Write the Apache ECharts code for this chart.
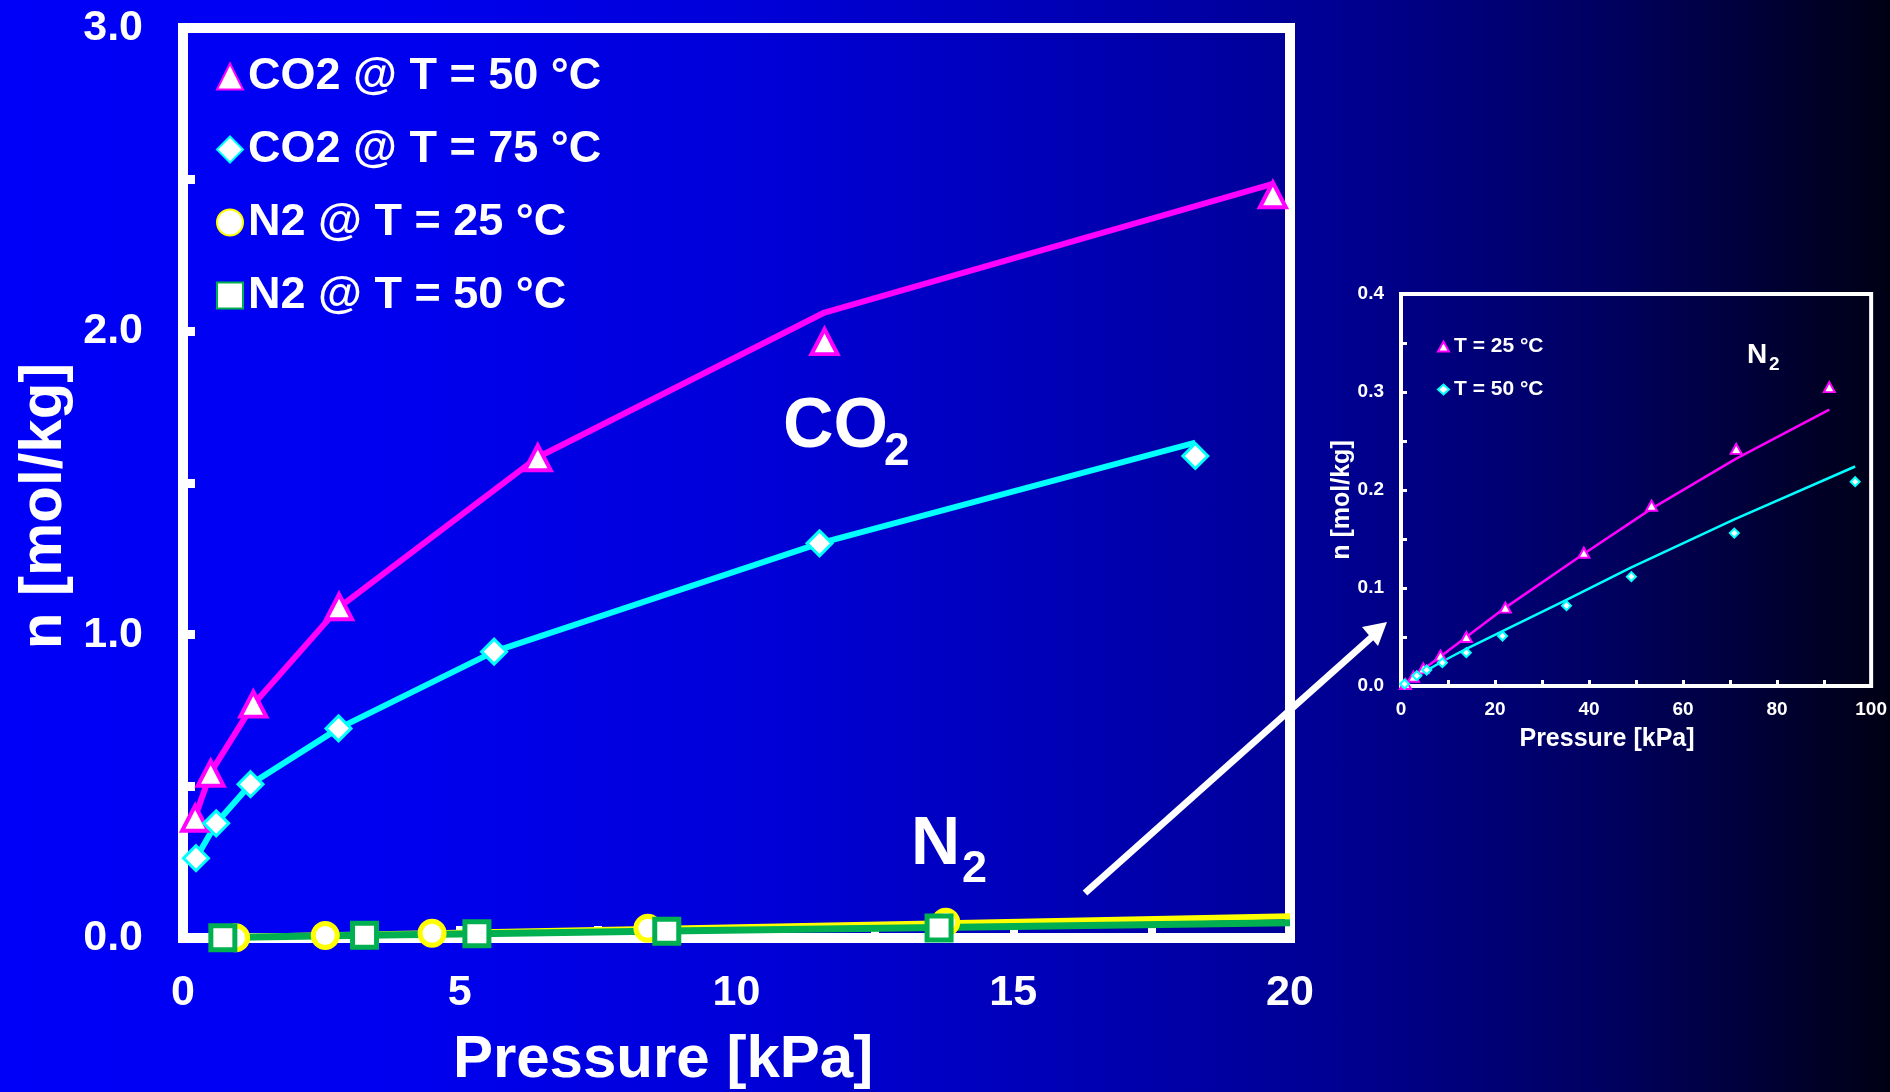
<!DOCTYPE html>
<html>
<head>
<meta charset="utf-8">
<script src="https://cdn.jsdelivr.net/npm/echarts@6/dist/echarts.min.js"></script>
<style>
html,body{margin:0;padding:0;width:1890px;height:1092px;overflow:hidden;}
#c{width:1890px;height:1092px;background:linear-gradient(to right,#0000F8 0%,#0000F0 20%,#0000D8 40%,#0000B8 55%,#000094 70%,#000060 85%,#000014 100%);}
</style>
</head>
<body>
<div id="c"></div>
<script>
// ---------- main chart data (Pressure [kPa], n [mol/kg]) ----------
const co2_50_P   = [0.22, 0.50, 1.27, 2.82, 6.41, 11.59, 19.69];
const co2_50_n   = [0.395, 0.543, 0.771, 1.092, 1.583, 1.966, 2.450];
const co2_50_fit = [0.400, 0.545, 0.770, 1.090, 1.585, 2.062, 2.486];

const co2_75_P   = [0.235, 0.60, 1.22, 2.81, 5.62, 11.50, 18.29];
const co2_75_n   = [0.263, 0.378, 0.507, 0.691, 0.944, 1.301, 1.589];
const co2_75_fit = [0.263, 0.378, 0.507, 0.691, 0.944, 1.301, 1.633];

const n2_25_P    = [0.95, 2.57, 4.50, 8.40, 13.78];
const n2_25_n    = [0.001, 0.008, 0.0155, 0.032, 0.052];
const n2_25_fitP = [0.95, 2.57, 4.50, 8.40, 13.78, 20.0];
const n2_25_fit  = [0.003, 0.009, 0.016, 0.030, 0.049, 0.0715];

const n2_50_P    = [0.72, 3.28, 5.31, 8.74, 13.66];
const n2_50_n    = [0.001, 0.009, 0.014, 0.022, 0.033];
const n2_50_fitP = [0.72, 3.28, 5.31, 8.74, 13.66, 20.0];
const n2_50_fit  = [0.002, 0.009, 0.014, 0.023, 0.035, 0.050];

// ---------- inset data (N2, 0-100 kPa) ----------
const in25_P   = [0.95, 2.65, 4.76, 8.4, 13.9, 22.2, 38.9, 53.3, 71.3, 91.1];
const in25_n   = [0.002, 0.0095, 0.018, 0.031, 0.050, 0.080, 0.136, 0.184, 0.242, 0.305];
const in25_fit = [0.003, 0.009, 0.017, 0.030, 0.050, 0.080, 0.135, 0.181, 0.232, 0.282];

const in50_P   = [0.76, 3.37, 5.47, 8.8, 13.9, 21.6, 35.2, 49.0, 70.9, 96.6];
const in50_n   = [0.002, 0.0105, 0.0163, 0.0238, 0.034, 0.051, 0.082, 0.1116, 0.156, 0.2085];
const in50_fit = [0.0025, 0.010, 0.016, 0.025, 0.038, 0.056, 0.088, 0.121, 0.170, 0.224];

// ---------- labels ----------
const mainNames  = ['CO2 @ T = 50 °C', 'CO2 @ T = 75 °C', 'N2 @ T = 25 °C', 'N2 @ T = 50 °C'];
const insetNames = ['T = 25 °C', 'T = 50 °C'];
const xTitle = 'Pressure [kPa]';
const yTitle = 'n [mol/kg]';

const FF = "'Liberation Sans', Arial, sans-serif";
const MAG = '#FF00FF', CYA = '#00FFFF', YEL = '#FFFF00', GRN = '#00B050';

const pairs = (xs, ys) => xs.map((x, i) => [x, ys[i]]);
const isMult = (v, step) => Math.abs(v / step - Math.round(v / step)) < 1e-6;

function axisX(grid, min, max, interval, labelStep, fs, margin, tl, tw) {
  return {
    type: 'value', gridIndex: grid, min, max, interval,
    axisLine: { show: false }, splitLine: { show: false },
    axisTick: { show: true, inside: true, length: tl, lineStyle: { color: '#fff', width: tw } },
    axisLabel: { color: '#fff', fontSize: fs, fontWeight: 'bold', fontFamily: FF, margin,
      formatter: v => isMult(v, labelStep) ? String(Math.round(v)) : '' }
  };
}
function axisY(grid, min, max, interval, labelStep, fs, margin, tl, tw) {
  return {
    type: 'value', gridIndex: grid, min, max, interval,
    axisLine: { show: false }, splitLine: { show: false },
    axisTick: { show: true, inside: true, length: tl, lineStyle: { color: '#fff', width: tw } },
    axisLabel: { color: '#fff', fontSize: fs, fontWeight: 'bold', fontFamily: FF, margin,
      formatter: v => isMult(v, labelStep) ? v.toFixed(1) : '' }
  };
}
function fitLine(name, xi, xs, ys, color, width) {
  return { name, type: 'line', xAxisIndex: xi, yAxisIndex: xi, data: pairs(xs, ys),
    symbol: 'none', silent: true, z: 2, lineStyle: { color, width }, itemStyle: { color } };
}
function pts(name, xi, xs, ys, symbol, size, color, bw, z) {
  return { name, type: 'scatter', xAxisIndex: xi, yAxisIndex: xi, data: pairs(xs, ys),
    symbol, symbolSize: size, z: z || 3,
    itemStyle: { color: '#fff', borderColor: color, borderWidth: bw, opacity: 1 } };
}
function txt(x, y, text, size, rot, align) {
  return { type: 'text', x, y, rotation: rot || 0, z: 10,
    style: { text, fill: '#fff', font: 'bold ' + size + 'px ' + FF,
      align: align || 'center', verticalAlign: 'middle' } };
}

const chart = echarts.init(document.getElementById('c'), null, { renderer: 'canvas' });
chart.setOption({
  animation: false,
  backgroundColor: 'transparent',
  textStyle: { fontFamily: FF },
  grid: [
    { left: 183, top: 28, width: 1107, height: 910, show: true, borderColor: '#fff', borderWidth: 10, backgroundColor: 'transparent' },
    { left: 1401, top: 294, width: 475, height: 392, show: true, borderColor: '#fff', borderWidth: 4, backgroundColor: 'transparent' }
  ],
  xAxis: [
    axisX(0, 0, 20, 2.5, 5, 43, 34, 12, 8),
    axisX(1, 0, 100, 10, 20, 19, 14, 6, 3)
  ],
  yAxis: [
    axisY(0, 0, 3, 0.5, 1, 43, 40, 12, 9),
    axisY(1, 0, 0.4, 0.05, 0.1, 19, 17, 6, 3)
  ],
  legend: [
    { data: mainNames, orient: 'vertical', left: 216, top: 54, padding: 0, itemGap: 28,
      itemWidth: 26, itemHeight: 26, selectedMode: false,
      textStyle: { color: '#fff', fontSize: 45, fontWeight: 'bold', fontFamily: FF, lineHeight: 26 } },
    { data: insetNames, orient: 'vertical', left: 1437, top: 336, padding: 0, itemGap: 22,
      itemWidth: 11, itemHeight: 10, selectedMode: false,
      textStyle: { color: '#fff', fontSize: 21, fontWeight: 'bold', fontFamily: FF, lineHeight: 10 } }
  ],
  series: [
    fitLine('fit CO2 50', 0, co2_50_P, co2_50_fit, MAG, 6),
    fitLine('fit CO2 75', 0, co2_75_P, co2_75_fit, CYA, 6),
    fitLine('fit N2 25', 0, n2_25_fitP, n2_25_fit, YEL, 6),
    fitLine('fit N2 50', 0, n2_50_fitP, n2_50_fit, GRN, 7),
    pts(mainNames[0], 0, co2_50_P, co2_50_n, 'triangle', [26, 25], MAG, 4, 3),
    pts(mainNames[1], 0, co2_75_P, co2_75_n, 'diamond', [25, 25], CYA, 3, 3),
    pts(mainNames[2], 0, n2_25_P, n2_25_n, 'circle', 24, YEL, 5, 3),
    pts(mainNames[3], 0, n2_50_P, n2_50_n, 'rect', 24, GRN, 5, 4),
    fitLine('fit in 25', 1, in25_P, in25_fit, MAG, 2.5),
    fitLine('fit in 50', 1, in50_P, in50_fit, CYA, 2.5),
    pts(insetNames[0], 1, in25_P, in25_n, 'triangle', [11, 10], MAG, 2, 3),
    pts(insetNames[1], 1, in50_P, in50_n, 'diamond', [9, 9], CYA, 2, 3)
  ],
  graphic: [
    txt(44, 506, yTitle, 60, Math.PI / 2),
    txt(663, 1060, xTitle, 60, 0),
    txt(1342, 500, yTitle, 25, Math.PI / 2),
    txt(1607, 739, xTitle, 25, 0),
    txt(783, 428, 'CO', 70, 0, 'left'),
    txt(884, 452, '2', 46, 0, 'left'),
    txt(911, 845, 'N', 68, 0, 'left'),
    txt(962, 870, '2', 45, 0, 'left'),
    txt(1747, 355, 'N', 28, 0, 'left'),
    txt(1769, 365, '2', 19, 0, 'left'),
    { type: 'line', z: 10, shape: { x1: 1085, y1: 893, x2: 1373, y2: 636 }, style: { stroke: '#fff', lineWidth: 7 } },
    { type: 'polygon', z: 10, shape: { points: [[1387, 622], [1362, 627], [1378, 646]] }, style: { fill: '#fff' } }
  ]
});
</script>
</body>
</html>
